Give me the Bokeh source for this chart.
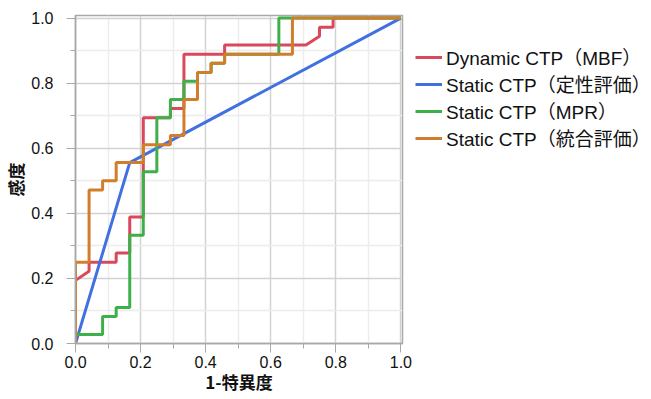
from bokeh.plotting import figure
from bokeh.models import Range1d, FixedTicker, PrintfTickFormatter, Legend, LegendItem
from bokeh.embed import file_html
from bokeh.resources import INLINE

# ROC step curves
mbf_x = [0, 0, 0.0417, 0.0417, 0.125, 0.125, 0.1667, 0.1667, 0.2083, 0.2083, 0.2917, 0.2917,
         0.3333, 0.3333, 0.4583, 0.4583, 0.7083, 0.75, 0.75, 0.7917, 0.7917, 1.0]
mbf_y = [0, 0.194, 0.222, 0.25, 0.25, 0.278, 0.278, 0.389, 0.389, 0.694, 0.694, 0.722,
         0.722, 0.889, 0.889, 0.917, 0.917, 0.944, 0.972, 0.972, 1.0, 1.0]

qual_x = [0, 0.1667, 1.0]
qual_y = [0, 0.556, 1.0]

mpr_x = [0, 0, 0.0833, 0.0833, 0.125, 0.125, 0.1667, 0.1667, 0.2083, 0.2083, 0.25, 0.25,
         0.2917, 0.2917, 0.3333, 0.3333, 0.375, 0.375, 0.4167, 0.4167, 0.4583, 0.4583,
         0.625, 0.625, 1.0]
mpr_y = [0, 0.028, 0.028, 0.083, 0.083, 0.111, 0.111, 0.333, 0.333, 0.528, 0.528, 0.694,
         0.694, 0.75, 0.75, 0.806, 0.806, 0.833, 0.833, 0.861, 0.861, 0.889,
         0.889, 1.0, 1.0]

comb_x = [0, 0, 0.0417, 0.0417, 0.0833, 0.0833, 0.125, 0.125, 0.2083, 0.2083, 0.2917, 0.2917,
          0.3333, 0.3333, 0.375, 0.375, 0.4167, 0.4167, 0.4583, 0.4583, 0.6667, 0.6667, 1.0]
comb_y = [0, 0.25, 0.25, 0.472, 0.472, 0.5, 0.5, 0.556, 0.556, 0.611, 0.611, 0.639,
          0.639, 0.75, 0.75, 0.833, 0.833, 0.861, 0.861, 0.889, 0.889, 1.0, 1.0]

series_names = ["Dynamic CTP（MBF）", "Static CTP（定性評価）", "Static CTP（MPR）", "Static CTP（統合評価）"]
series_colors = ["#D9485B", "#4170E0", "#3DB04A", "#D17E2C"]

major_ticks = [0.0, 0.2, 0.4, 0.6, 0.8, 1.0]
minor_ticks = [0.1, 0.3, 0.5, 0.7, 0.9]

x_label = "1-特異度"
y_label = "感度"

p = figure(frame_width=327, frame_height=328, output_backend="svg", toolbar_location=None,
           x_range=Range1d(0, 1.005), y_range=Range1d(0, 1.008),
           min_border_left=70, min_border_right=238, min_border_top=15, min_border_bottom=0)

p.outline_line_color = "#a8a8a8"
p.outline_line_width = 1.5

for ax in (p.xaxis[0], p.yaxis[0]):
    ax.ticker = FixedTicker(ticks=major_ticks, minor_ticks=minor_ticks)
    ax.formatter = PrintfTickFormatter(format="%.1f")
    ax.axis_line_color = "#a8a8a8"
    ax.axis_line_width = 1.5
    ax.major_tick_line_color = "#a8a8a8"
    ax.minor_tick_line_color = "#a8a8a8"
    ax.major_tick_out = 9
    ax.major_tick_in = 0
    ax.minor_tick_out = 5
    ax.minor_tick_in = 0
    ax.major_label_text_font = "Liberation Sans"
    ax.major_label_text_font_size = "16px"
    ax.major_label_text_color = "#111111"
    ax.axis_label_text_font = "Noto Sans CJK JP"
    ax.axis_label_text_font_size = "17px"
    ax.axis_label_text_font_style = "bold"
    ax.axis_label_text_color = "#111111"

p.xaxis.axis_label = x_label
p.yaxis.axis_label = y_label
p.xaxis.major_label_standoff = 3
p.xaxis.axis_label_standoff = -2
p.yaxis.major_label_standoff = 13
p.yaxis.axis_label_standoff = 0

for g in (p.xgrid[0], p.ygrid[0]):
    g.ticker = FixedTicker(ticks=major_ticks, minor_ticks=minor_ticks)
    g.grid_line_color = "#d2d2d2"
    g.grid_line_width = 1.5
    g.minor_grid_line_color = "#ececec"
    g.minor_grid_line_width = 1.5

xs = [mbf_x, qual_x, mpr_x, comb_x]
ys = [mbf_y, qual_y, mpr_y, comb_y]
items = []
for name, color, x, y in zip(series_names, series_colors, xs, ys):
    r = p.line(x, y, line_color=color, line_width=3)
    items.append(LegendItem(label=name, renderers=[r]))

legend = Legend(items=items, location=(13, 192))
legend.border_line_color = None
legend.background_fill_alpha = 0
legend.padding = 0
legend.margin = 0
legend.glyph_width = 27
legend.glyph_height = 20
legend.label_height = 20
legend.label_standoff = 4
legend.spacing = 0
legend.label_text_font = "Liberation Sans, Noto Sans CJK JP"
legend.label_text_font_size = "19px"
legend.label_text_color = "#111111"
p.add_layout(legend, "right")

open("out.html", "w").write(file_html(p, INLINE))
